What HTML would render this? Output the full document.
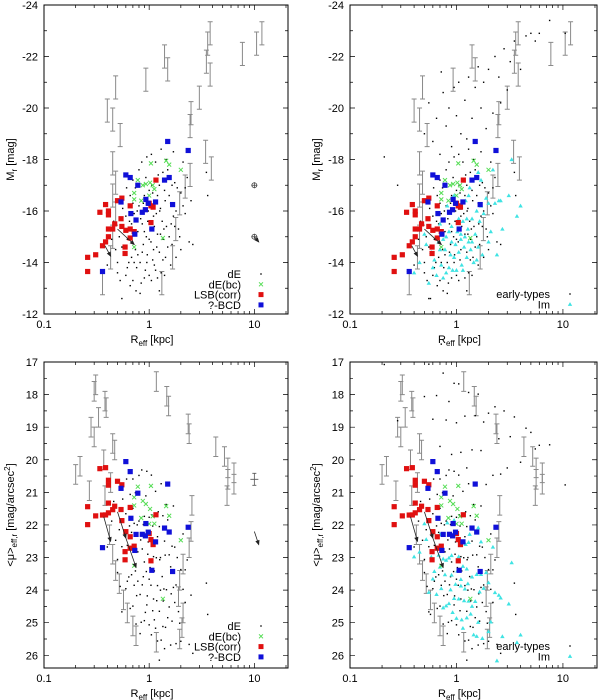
<!DOCTYPE html>
<html><head><meta charset="utf-8"><style>
html,body{margin:0;padding:0;background:#fff}
svg{display:block}
text{font-family:"Liberation Sans",sans-serif;fill:#000}
</style></head><body>
<svg id="chart" width="600" height="700" viewBox="0 0 600 700" xmlns="http://www.w3.org/2000/svg"></svg>
<script>
// ---- data ----
const dE_R=[0.5,0.55,0.6,0.62,0.65,0.68,0.7,0.72,0.74,0.76,0.78,0.8,0.82,0.84,0.86,0.88,0.9,0.92,0.94,0.96,0.98,1.0,1.02,1.04,1.06,1.08,1.1,1.12,1.15,1.18,1.2,1.22,1.25,1.28,1.3,1.33,1.36,1.4,1.43,1.46,1.5,1.55,1.6,1.65,1.7,1.75,1.8,1.9,2.0,2.1,2.2,2.4,2.5,2.3,0.58,0.66,0.7,0.74,0.8,0.85,0.95,1.05,1.15,1.3,1.45,1.25,0.9,0.78,0.68,0.64,0.6,0.56,0.52,0.48,0.46,0.5,0.9,1.05,1.2,1.4,1.6,1.8,2.0,0.75,0.55,1.1,1.0,0.88,1.35,1.7,1.2,0.83,0.97,1.12,1.28,1.5,1.62,1.85,0.72,0.62,0.95,1.15,1.35,0.86,1.0,1.17,1.42,1.65,2.2,2.6,3.5,3.6,0.4,0.44,0.53,0.66,0.77,0.93,1.08,1.26,1.38,1.55,1.75,1.95,2.1,0.82,1.25,0.7,0.61];
const dE_M=[-14.0,-14.6,-13.5,-14.9,-15.6,-14.2,-13.3,-15.9,-14.5,-13.8,-15.2,-16.2,-14.0,-13.2,-15.5,-14.7,-16.6,-13.7,-15.0,-14.3,-16.0,-13.5,-15.3,-14.8,-17.0,-14.1,-15.8,-13.9,-16.4,-14.6,-15.1,-17.4,-14.4,-16.1,-13.6,-15.6,-14.9,-16.8,-14.2,-15.4,-17.6,-15.0,-16.3,-14.7,-15.8,-17.1,-16.0,-15.3,-16.7,-17.9,-15.9,-14.8,-16.4,-17.3,-15.2,-16.6,-17.2,-16.9,-17.6,-17.9,-18.1,-18.2,-17.9,-18.4,-18.0,-17.0,-15.2,-14.3,-15.5,-14.0,-15.8,-16.1,-15.0,-14.5,-15.6,-13.6,-13.4,-13.3,-13.4,-13.5,-13.9,-14.2,-14.5,-12.9,-12.6,-14.5,-16.8,-16.3,-17.5,-18.3,-16.6,-15.7,-15.6,-15.4,-15.1,-14.6,-15.5,-16.9,-14.0,-13.8,-14.0,-13.7,-14.1,-14.4,-14.9,-15.9,-16.4,-17.0,-16.9,-14.7,-17.5,-16.6,-13.9,-14.9,-13.3,-13.1,-16.0,-17.3,-16.7,-16.0,-15.3,-16.6,-15.4,-15.0,-16.2,-12.8,-12.9,-16.3,-16.9];
const giant_R=[0.21,0.28,0.5,0.55,0.6,0.65,0.7,0.75,0.8,0.85,0.9,0.95,1.0,1.05,1.1,1.2,1.3,1.4,1.5,1.6,1.7,1.8,2.0,2.2,2.3,2.5,2.8,3.0,3.2,3.5,4.5,5.0,5.5,6.0,7.5,10.5,4.0,2.6,1.9,1.25,0.72,0.57];
const giant_M=[-18.1,-17.0,-19.0,-20.2,-18.7,-19.6,-18.2,-20.6,-19.3,-20.0,-18.5,-20.8,-19.7,-21.0,-19.0,-20.3,-21.2,-19.6,-20.8,-21.6,-20.0,-21.0,-21.5,-19.8,-22.0,-21.2,-22.3,-20.7,-21.8,-22.6,-22.8,-22.9,-22.6,-22.9,-23.4,-22.9,-21.5,-20.2,-19.2,-18.8,-21.4,-12.6];
const bc_R=[1.04,1.45,1.55,2.0,0.78,0.87,0.93,1.02,1.08,1.12,1.0,0.72,0.84,0.72,1.35,0.72];
const bc_M=[-17.85,-17.95,-17.8,-17.6,-17.2,-17.0,-17.05,-17.1,-17.0,-16.85,-16.6,-16.7,-16.4,-16.45,-14.95,-14.6];
const lsb_R=[0.26,0.26,0.31,0.36,0.385,0.41,0.41,0.45,0.47,0.41,0.41,0.34,0.385,0.50,0.55,0.54,0.60,0.59,0.59,0.66,0.72,0.66,1.04,1.09,1.16,1.04,0.55,0.66,1.0];
const lsb_M=[-13.65,-14.2,-14.3,-14.65,-14.8,-15.0,-15.3,-15.3,-15.5,-15.85,-16.0,-15.95,-16.25,-16.4,-16.5,-15.7,-15.25,-14.6,-14.35,-15.3,-15.2,-14.95,-16.2,-16.15,-17.2,-15.55,-15.4,-16.2,-16.3];
const bcd_R=[0.36,0.6,0.66,0.78,0.54,0.67,0.75,0.73,0.93,0.98,0.92,0.86,1.06,1.15,1.5,1.4,1.55,1.67,2.35];
const bcd_M=[-13.65,-17.4,-17.3,-17.0,-16.35,-15.9,-15.65,-15.1,-16.45,-16.3,-16.05,-15.95,-15.3,-16.35,-18.7,-17.2,-17.3,-16.25,-18.35];
const im_R=[0.4,0.45,0.5,0.55,0.58,0.6,0.65,0.68,0.7,0.72,0.75,0.78,0.8,0.82,0.85,0.88,0.9,0.92,0.95,0.98,1.0,1.02,1.05,1.08,1.1,1.12,1.15,1.18,1.2,1.22,1.25,1.28,1.3,1.33,1.36,1.4,1.45,1.5,1.55,1.6,1.65,1.7,1.75,1.8,1.9,2.0,2.1,2.2,2.3,2.4,2.5,2.7,3.1,3.3,3.7,4.0,1.6,1.3,0.95,0.85,1.15,0.7,0.62,0.52,1.05,1.4,1.7,2.0,0.75,1.25,0.9,1.1,0.8,2.6,1.55];
const im_M=[-13.6,-14.0,-15.1,-13.2,-14.4,-13.8,-13.5,-14.8,-15.5,-13.9,-13.4,-14.5,-15.0,-16.2,-13.8,-14.3,-15.4,-13.7,-16.6,-14.7,-13.7,-15.2,-14.4,-16.1,-14.9,-13.9,-15.6,-14.6,-15.0,-16.4,-14.2,-15.3,-14.8,-16.9,-14.5,-15.7,-14.0,-15.1,-16.0,-14.6,-15.6,-17.2,-14.3,-15.9,-16.5,-14.8,-15.2,-17.6,-16.3,-14.3,-16.4,-15.3,-16.6,-18.0,-15.8,-16.2,-17.5,-16.6,-14.2,-15.2,-13.7,-14.5,-14.1,-14.7,-15.7,-14.8,-16.2,-16.3,-14.9,-15.7,-14.8,-15.1,-13.6,-16.4,-14.1];
const barT_R=[0.48,0.40,0.45,0.53,0.45,0.48,0.45,0.48,0.45,0.43,0.36,1.32,1.67,1.79,1.95,2.2,2.45,3.44,3.9,2.5,2.45,3.0,3.6,3.8,3.5,3.8,0.93,1.4,1.5,7.7,10.5,11.8];
const barT_M=[-20.8,-19.9,-19.55,-18.95,-17.85,-17.1,-16.6,-15.9,-15.0,-14.2,-13.2,-13.2,-14.2,-15.3,-16.3,-16.95,-17.4,-18.3,-17.65,-19.8,-19.3,-20.4,-22.5,-22.9,-21.8,-21.3,-21.1,-22.0,-21.5,-22.1,-22.5,-22.9];
const barB_R=[0.2,0.22,0.27,0.28,0.3,0.30,0.31,0.33,0.38,0.39,0.37,0.38,0.43,0.45,0.47,0.42,0.45,0.48,0.52,0.57,0.62,0.7,0.75,1.17,1.95,2.05,2.1,1.9,1.95,2.1,2.4,2.5,2.55,1.17,1.47,1.53,2.35,2.4,4.3,5.2,5.6,6.4,5.6,6.4,5.5];
const barB_mu=[20.45,20.2,20.95,19.0,19.3,17.9,17.7,18.7,18.2,18.4,20.0,21.1,20.7,19.5,19.7,22.3,22.9,23.4,23.8,24.3,24.7,25.1,25.4,25.6,25.5,25.15,24.7,24.2,23.7,23.2,22.7,22.2,21.4,17.6,18.05,18.35,18.9,19.2,19.6,19.9,20.25,20.4,20.6,20.75,21.1];
const yTicksTop=[-24,-22,-20,-18,-16,-14,-12];
const yTicksBot=[17,18,19,20,21,22,23,24,25,26];
const xTicks=[0.1,1,10];
// surface brightness from M and Reff (kpc)
function mu(M,R){return M+2.5*Math.log10(2*Math.PI*R*R)+36.57;}

const NS="http://www.w3.org/2000/svg";
const svg=document.getElementById('chart');
function el(tag,attrs,parent){const e=document.createElementNS(NS,tag);for(const k in attrs)e.setAttribute(k,attrs[k]);(parent||svg).appendChild(e);return e;}

function makePanel(cfg){
  const g=el('g',{});
  
  
  const xs=R=>cfg.x0+(Math.log10(R)+1)/2.32*(cfg.x1-cfg.x0);
  const ys=v=>cfg.y0+(v-cfg.vmin)/(cfg.vmax-cfg.vmin)*(cfg.y1-cfg.y0);
  const Y=cfg.bottom?((M,R)=>mu(M,R)):((M,R)=>M);
  const bb=el('g',{stroke:'#8a8a8a','stroke-width':1,fill:'none'},g);
  
  
  for(let i=0;i<cfg.barR.length;i++){
    const x=xs(cfg.barR[i]),yc=ys(cfg.barV[i]),e=Math.abs(ys(cfg.barV[i]+cfg.err)-yc);
    const p=el('path',{d:`M${x},${yc-e}V${yc+e}M${x-2.5},${yc-e}H${x+2.5}M${x-2.5},${yc+e}H${x+2.5}`},bb);
    
    
  }
  const dots=el('g',{fill:'#000'},g);
  
  
  const addDots=(Rs,Ms)=>{for(let i=0;i<Rs.length;i++){const c=el('rect',{x:xs(Rs[i])-0.7,y:ys(Y(Ms[i],Rs[i]))-0.7,width:1.4,height:1.4},dots);}};
  addDots(dE_R,dE_M);
  if(cfg.right) addDots(giant_R,giant_M);
  if(cfg.right){
    const ig=el('g',{fill:'#3fe3e3'},g);
    
    
    for(let i=0;i<im_R.length;i++){const x=xs(im_R[i]),y=ys(Y(im_M[i],im_R[i]));const t=el('path',{d:`M${x},${y-2.2}L${x+2.2},${y+1.6}L${x-2.2},${y+1.6}Z`},ig);}
  }
  const gg=el('g',{stroke:'#55dd55','stroke-width':1},g);
  
  
  for(let i=0;i<bc_R.length;i++){const x=xs(bc_R[i]),y=ys(Y(bc_M[i],bc_R[i]));const p=el('path',{d:`M${x-2},${y-2}L${x+2},${y+2}M${x-2},${y+2}L${x+2},${y-2}`},gg);}
  const sq=(Rs,Ms,col,nm)=>{const sg=el('g',{fill:col},g);for(let i=0;i<Rs.length;i++){const r=el('rect',{x:xs(Rs[i])-2.6,y:ys(Y(Ms[i],Rs[i]))-2.6,width:5.2,height:5.2},sg);}};
  sq(lsb_R,lsb_M,'#e01010','lsb');
  sq(bcd_R,bcd_M,'#1010d8','bcd');
  const ar=el('g',{stroke:'#222','stroke-width':0.8,fill:'#222'},g);
  
  
  let arrows=cfg.bottom?[[0.37,21.75,0.43,22.5],[0.5,21.6,0.6,22.4],[0.6,22.4,0.75,23.3]]:[[0.38,-14.65,0.43,-14.25],[0.5,-15.3,0.72,-14.7]];
  if(!cfg.right) arrows=arrows.concat(cfg.bottom?[[10,22.2,11,22.6]]:[[10,-15,11,-14.8]]);
  for(const a of arrows){const x1=xs(a[0]),y1=ys(a[1]),x2=xs(a[2]),y2=ys(a[3]);el('line',{x1,y1,x2,y2},ar);const an=Math.atan2(y2-y1,x2-x1);el('path',{d:`M${x2},${y2}L${x2-4*Math.cos(an-0.4)},${y2-4*Math.sin(an-0.4)}L${x2-4*Math.cos(an+0.4)},${y2-4*Math.sin(an+0.4)}Z`},ar);}
  if(!cfg.right){
    if(!cfg.bottom){for(const v of[-17,-15]){el('circle',{cx:xs(10),cy:ys(v),r:2.5,fill:'none',stroke:'#444','stroke-width':0.8},ar);el('path',{d:`M${xs(10)-3},${ys(v)}H${xs(10)+3}M${xs(10)},${ys(v)-3}V${ys(v)+3}`,'stroke':'#444'},ar);}}
    else {const x=xs(10),y=ys(20.6);el('path',{d:`M${x-4},${y}H${x+4}M${x},${y-6}V${y+6}M${x-2},${y-6}H${x+2}M${x-2},${y+6}H${x+2}`,stroke:'#555'},ar);}
  }
  const ax=el('g',{stroke:'#000','stroke-width':1,fill:'none'},g);
  
  
  el('rect',{x:cfg.x0,y:cfg.y0,width:cfg.x1-cfg.x0,height:cfg.y1-cfg.y0},ax);
  let d='';
  for(let dec=-1;dec<=1;dec++)for(let k=1;k<=9;k++){const R=k*Math.pow(10,dec);if(R>20.5)continue;const x=xs(R),L=k==1?5:3;d+=`M${x},${cfg.y1}v${-L}M${x},${cfg.y0}v${L}`;}
  for(let v=cfg.vmin;v<=cfg.vmax+0.01;v+=cfg.minor){const y=ys(v);const maj=Math.abs((v-cfg.vmin)/cfg.major-Math.round((v-cfg.vmin)/cfg.major))<0.01;const L=maj?5:3;d+=`M${cfg.x0},${y}h${L}M${cfg.x1},${y}h${-L}`;}
  el('path',{d:d,'stroke-width':0.7},ax);
  for(const t of cfg.yt){const tx=el('text',{x:cfg.x0-6,y:ys(t)+4,'font-size':11,'text-anchor':'end'},g);tx.textContent=t;}
  for(const t of xTicks){const tx=el('text',{x:xs(t),y:cfg.y1+14,'font-size':11,'text-anchor':'middle'},g);tx.textContent=t;}
  const xt=el('text',{x:(cfg.x0+cfg.x1)/2-14,y:cfg.y1+29,'font-size':11,'text-anchor':'middle'},g);
  xt.innerHTML='R<tspan font-size="8" dy="3">eff</tspan><tspan dy="-3"> [kpc]</tspan>';
  
  
  const yc=(cfg.y0+cfg.y1)/2;
  const yt=el('text',{x:0,y:0,'font-size':11,'text-anchor':'middle',transform:`translate(${cfg.x0-30},${yc}) rotate(-90)`},g);
  yt.innerHTML=cfg.bottom?'&lt;μ&gt;<tspan font-size="8" dy="3">eff,r</tspan><tspan dy="-3"> [mag/arcsec</tspan><tspan font-size="8" dy="-4">2</tspan><tspan dy="4">]</tspan>':'M<tspan font-size="8" dy="3">r</tspan><tspan dy="-3"> [mag]</tspan>';
  
  
  const lg=el('g',{},g);
  
  
  const items=cfg.right?[['early-types','dot'],['Im','tri']]:[['dE','dot'],['dE(bc)','x'],['LSB(corr)','red'],['?-BCD','blue']];
  const base=cfg.y1-(cfg.right?20:40)+ (cfg.bottom?-2:0);
  items.forEach((it,i)=>{const y=base+i*10.3;const tx=el('text',{x:cfg.x1-47,y:y+4,'font-size':11,'text-anchor':'end'},lg);tx.textContent=it[0];
    const sx=cfg.x1-27;
    if(it[1]=='dot')el('rect',{x:sx-0.7,y:y-0.7,width:1.4,height:1.4,fill:'#000'},lg);
    if(it[1]=='x')el('path',{d:`M${sx-2},${y-2}L${sx+2},${y+2}M${sx-2},${y+2}L${sx+2},${y-2}`,stroke:'#55dd55'},lg);
    if(it[1]=='red')el('rect',{x:sx-2.5,y:y-2.5,width:5,height:5,fill:'#e01010'},lg);
    if(it[1]=='blue')el('rect',{x:sx-2.5,y:y-2.5,width:5,height:5,fill:'#1010d8'},lg);
    if(it[1]=='tri')el('path',{d:`M${sx},${y-2.2}L${sx+2.2},${y+1.6}L${sx-2.2},${y+1.6}Z`,fill:'#3fe3e3'},lg);
  });
}
makePanel({name:'panel-mag-left',x0:44,x1:288,y0:5,y1:314,vmin:-24,vmax:-12,major:2,minor:1,yt:yTicksTop,barR:barT_R,barV:barT_M,err:0.45,bottom:false,right:false});
makePanel({name:'panel-mag-right',x0:350,x1:597,y0:5,y1:314,vmin:-24,vmax:-12,major:2,minor:1,yt:yTicksTop,barR:barT_R,barV:barT_M,err:0.45,bottom:false,right:true});
makePanel({name:'panel-sb-left',x0:44,x1:288,y0:362,y1:668,vmin:17,vmax:26.39,major:1,minor:0.5,yt:yTicksBot,barR:barB_R,barV:barB_mu,err:0.3,bottom:true,right:false});
makePanel({name:'panel-sb-right',x0:350,x1:597,y0:362,y1:668,vmin:17,vmax:26.39,major:1,minor:0.5,yt:yTicksBot,barR:barB_R,barV:barB_mu,err:0.3,bottom:true,right:true});
</script>
</body></html>
